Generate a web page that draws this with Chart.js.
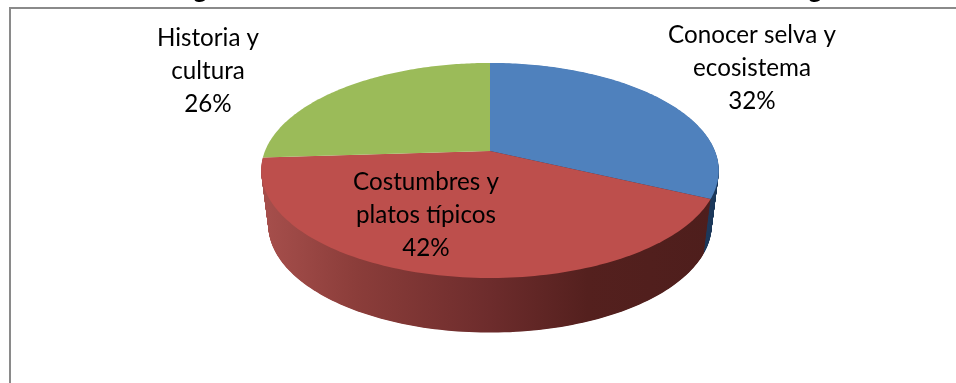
<!DOCTYPE html>
<html lang="es">

<head>
    <meta charset="UTF-8">
    <title>Pie 3D</title>
    <script src="https://cdn.jsdelivr.net/npm/chart.js"></script>
    <style>
        html, body { margin: 0; padding: 0; background: #fff; overflow: hidden; }
        #wrap { width: 956px; height: 383px; }
    </style>
</head>

<body>
    <div id="wrap"><canvas id="pieChart"></canvas></div>

    <script>
        const categories = [
            ['Conocer selva y', 'ecosistema'],
            ['Costumbres y', 'platos típicos'],
            ['Historia y', 'cultura']
        ];
        const shares = [32, 42, 26];
        const topColors = ['#4f81bd', '#bd4f4c', '#9bbb59'];

        // label centres, one per slice (x, y of the first line)
        const labelX = [752, 426, 208];
        const labelY = [35, 182, 38];
        const lineHeight = 33;

        // perspective of the disc
        const STRETCH_X = 225 / 104;
        const TILT = 0.181;
        const WALL_STRETCH_X = 218 / 104;
        const WALL_DROP = 54.6;

        function rimPoint(arc, angle, stretch, drop) {
            const u = Math.cos(angle);
            const v = Math.sin(angle);
            const d = 1 - TILT * v;
            return {
                x: arc.x + arc.outerRadius * stretch * u / d,
                y: arc.y + drop + arc.outerRadius * v / d
            };
        }

        function fillSlice(ctx, arc, stretch, drop, fill) {
            const steps = 120;
            ctx.beginPath();
            ctx.moveTo(arc.x, arc.y + drop);
            for (let i = 0; i <= steps; i++) {
                const a = arc.startAngle + (arc.endAngle - arc.startAngle) * i / steps;
                const p = rimPoint(arc, a, stretch, drop);
                ctx.lineTo(p.x, p.y);
            }
            ctx.closePath();
            ctx.fillStyle = fill;
            ctx.fill();
        }

        // side wall: the slice is stacked from the bottom face up to the top face
        function drawWall(ctx, arc, fill) {
            const layers = 110;
            for (let k = layers; k > 0; k--) {
                const f = k / layers;
                const stretch = STRETCH_X + (WALL_STRETCH_X - STRETCH_X) * f;
                fillSlice(ctx, arc, stretch, WALL_DROP * f, fill);
            }
        }

        const pie3d = {
            id: 'pie3d',
            beforeDraw(chart) {
                const ctx = chart.ctx;
                ctx.save();
                ctx.fillStyle = '#fff';
                ctx.fillRect(0, 0, chart.width, chart.height);
                // chart frame, only top and left fall inside the page
                ctx.strokeStyle = '#8a8a8a';
                ctx.lineWidth = 2;
                ctx.beginPath();
                ctx.moveTo(chart.width, 8);
                ctx.lineTo(10, 8);
                ctx.lineTo(10, chart.height);
                ctx.stroke();
                // descenders of the heading that runs off the top
                ctx.fillStyle = '#000';
                ctx.font = 'bold 26px Lato';
                ctx.textAlign = 'center';
                ctx.fillText('g', 200, -2);
                ctx.fillText('g', 815, -2);
                ctx.restore();
            },
            // the arcs are replaced by a tilted disc with a side wall
            beforeDatasetDraw(chart, args) {
                const ctx = chart.ctx;
                const arcs = chart.getDatasetMeta(args.index).data;

                const sideFill = ctx.createLinearGradient(268, 0, 712, 0);
                sideFill.addColorStop(0, '#a54e4b');
                sideFill.addColorStop(0.2, '#8b3d3a');
                sideFill.addColorStop(0.5, '#6d2c2c');
                sideFill.addColorStop(0.72, '#54201e');
                sideFill.addColorStop(1, '#4e1e1c');

                ctx.save();
                // the third slice only has a back wall, which stays hidden
                drawWall(ctx, arcs[0], '#1f3a5c');
                drawWall(ctx, arcs[1], sideFill);
                arcs.forEach((arc) => {
                    fillSlice(ctx, arc, STRETCH_X, 0, arc.options.backgroundColor);
                });
                ctx.restore();
                return false;
            },
            afterDatasetsDraw(chart) {
                const ctx = chart.ctx;
                const values = chart.data.datasets[0].data;
                const total = values.reduce((a, b) => a + b, 0);
                ctx.save();
                ctx.fillStyle = '#000';
                ctx.font = '24.2px Lato';
                ctx.textAlign = 'center';
                ctx.textBaseline = 'middle';
                chart.data.labels.forEach((label, i) => {
                    const lines = label.concat(Math.round(values[i] / total * 100) + '%');
                    lines.forEach((line, j) => {
                        ctx.fillText(line, labelX[i], labelY[i] + j * lineHeight);
                    });
                });
                ctx.restore();
            }
        };

        new Chart(document.getElementById('pieChart'), {
            type: 'pie',
            data: {
                labels: categories,
                datasets: [{
                    data: shares,
                    backgroundColor: topColors,
                    borderWidth: 0
                }]
            },
            options: {
                responsive: true,
                maintainAspectRatio: false,
                animation: false,
                // centres the base circle at (490, 151) with radius 104
                layout: { padding: { left: 386, right: 362, top: 47, bottom: 128 } },
                plugins: {
                    legend: { display: false },
                    tooltip: { enabled: false }
                }
            },
            plugins: [pie3d]
        });
    </script>

</body>

</html>
